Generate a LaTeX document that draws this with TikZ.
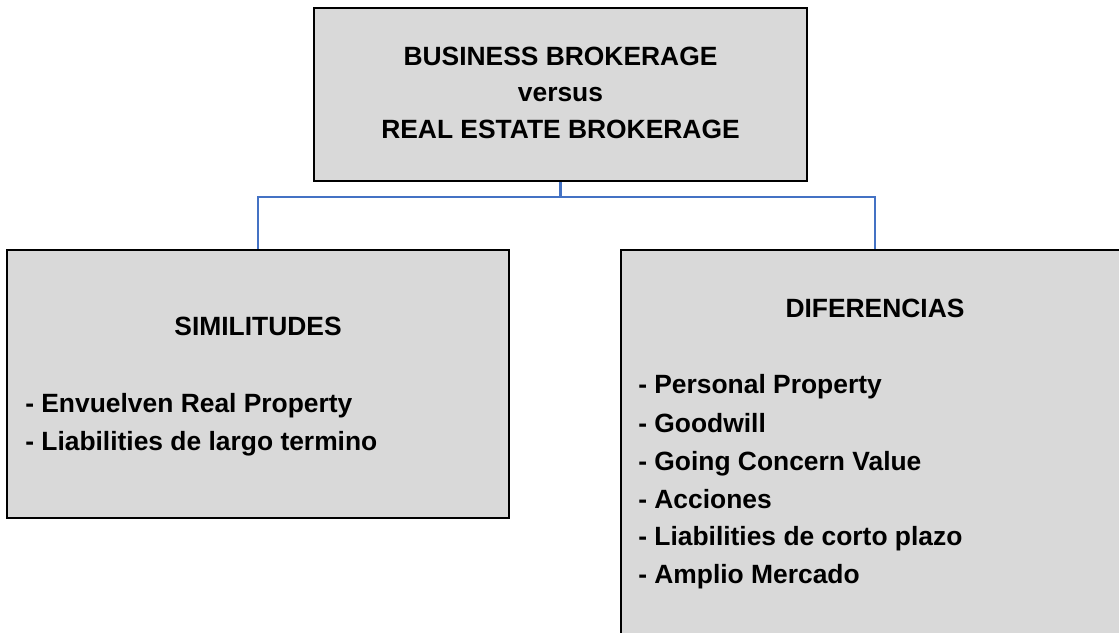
\documentclass[tikz,border=0pt]{standalone}
\usepackage{fontspec}
\setmainfont{Liberation Sans}
\usepackage{xcolor}
\definecolor{boxgray}{RGB}{217,217,217}
\definecolor{linkblue}{RGB}{68,114,196}

\begin{document}
\begin{tikzpicture}[x=0.75pt, y=-0.75pt,
  box/.style={rectangle, draw=black, line width=2pt, fill=boxgray, inner sep=0pt},
  label/.style={font=\bfseries\fontsize{19.8}{23}\selectfont, inner sep=0pt},
  link/.style={draw=linkblue, line width=1.6pt}]
  \useasboundingbox (0,0) rectangle (1119,632);

  % Boxes
  \node[box, minimum width=493*0.75pt, minimum height=173*0.75pt] (top) at (560.5, 94.5) {};
  \node[box, minimum width=502*0.75pt, minimum height=268*0.75pt] (sim) at (258, 384) {};
  \node[box, minimum width=508*0.75pt, minimum height=400*0.75pt] (dif) at (875, 450) {};

  % Edges
  \coordinate (split) at (560.5, 197);
  \draw[link] (top.south) -- (split) -| (sim.north);
  \draw[link] (split) -| (dif.north);

  % Title
  \node[label, anchor=base] (t1) at (560.5, 65) {BUSINESS BROKERAGE};
  \node[label, anchor=base] (t2) at (560.5, 101) {versus};
  \node[label, anchor=base] (t3) at (560.5, 138) {REAL ESTATE BROKERAGE};

  % Left box
  \node[label, anchor=base] (s0) at (258, 335) {SIMILITUDES};
  \node[label, anchor=base west] (s1) at (25, 412) {- Envuelven Real Property};
  \node[label, anchor=base west] (s2) at (25, 450) {- Liabilities de largo termino};

  % Right box
  \node[label, anchor=base] (d0) at (875, 317) {DIFERENCIAS};
  \node[label, anchor=base west] (d1) at (638, 393) {- Personal Property};
  \node[label, anchor=base west] (d2) at (638, 432) {- Goodwill};
  \node[label, anchor=base west] (d3) at (638, 470) {- Going Concern Value};
  \node[label, anchor=base west] (d4) at (638, 508) {- Acciones};
  \node[label, anchor=base west] (d5) at (638, 545) {- Liabilities de corto plazo};
  \node[label, anchor=base west] (d6) at (638, 583) {- Amplio Mercado};
\end{tikzpicture}
\end{document}
